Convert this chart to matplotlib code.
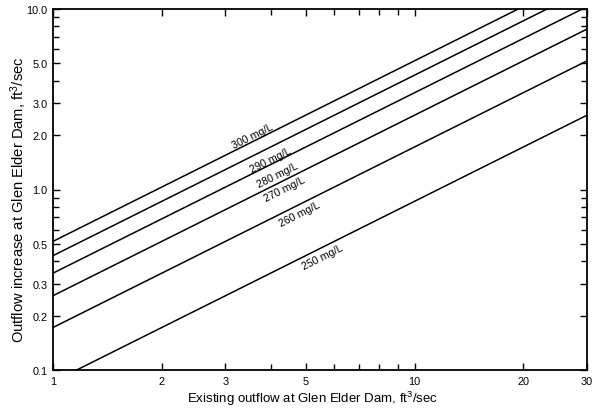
import numpy as np
import matplotlib
matplotlib.use("Agg")
import matplotlib.pyplot as plt
from matplotlib.ticker import FixedLocator, NullFormatter

plt.rcParams['font.family'] = ['Liberation Sans', 'DejaVu Sans']
plt.rcParams['mathtext.fontset'] = 'custom'
plt.rcParams['mathtext.rm'] = 'Liberation Sans'
plt.rcParams['mathtext.it'] = 'Liberation Sans'

# Data: straight lines on log-log axes, given by end points
x_ends = [1, 30]
series = {
    "300 mg/L": [0.516, 15.5],
    "290 mg/L": [0.430, 12.9],
    "280 mg/L": [0.344, 10.3],
    "270 mg/L": [0.258, 7.74],
    "260 mg/L": [0.172, 5.16],
    "250 mg/L": [0.086, 2.58],
}
# label centres (data coords)
label_x = [3.575, 4.01, 4.19, 4.38, 4.82, 5.58]
label_y = [1.98, 1.457, 1.203, 1.006, 0.732, 0.423]

x_major = [1, 2, 3, 5, 10, 20, 30]
x_major_labels = ["1", "2", "3", "5", "10", "20", "30"]
x_minor = [4, 6, 7, 8, 9]
y_major = [0.1, 0.2, 0.3, 0.5, 1.0, 2.0, 3.0, 5.0, 10.0]
y_major_labels = ["0.1", "0.2", "0.3", "0.5", "1.0", "2.0", "3.0", "5.0", "10.0"]
y_minor = [0.4, 0.6, 0.7, 0.8, 0.9, 4, 6, 7, 8, 9]

fig = plt.figure(figsize=(6.0, 4.1), dpi=100)
ax = fig.add_axes([53/600, 1-371/410, (587-53)/600, (371-10)/410])
ax.set_xscale('log')
ax.set_yscale('log')
ax.set_xlim(1, 30)
ax.set_ylim(0.1, 10)

for name, ys in series.items():
    ax.plot(x_ends, ys, color='black', lw=1.1, solid_capstyle='butt')

# rotation from axes geometry
fig.canvas.draw()
p0 = ax.transData.transform((1, 0.1))
p1 = ax.transData.transform((10, 1.0))
ang = np.degrees(np.arctan2(p1[1]-p0[1], p1[0]-p0[0]))
for (name, _), lx, ly in zip(series.items(), label_x, label_y):
    ax.text(lx, ly, name, rotation=ang, ha='center', va='center',
            fontsize=7.7, rotation_mode='anchor')

ax.xaxis.set_major_locator(FixedLocator(x_major))
ax.set_xticklabels(x_major_labels)
ax.xaxis.set_minor_locator(FixedLocator(x_minor))
ax.xaxis.set_minor_formatter(NullFormatter())
ax.yaxis.set_major_locator(FixedLocator(y_major))
ax.set_yticklabels(y_major_labels)
ax.yaxis.set_minor_locator(FixedLocator(y_minor))
ax.yaxis.set_minor_formatter(NullFormatter())

ax.tick_params(which='both', direction='in', top=True, right=True,
               labelsize=7.8, width=1.0, pad=4)
ax.tick_params(which='major', length=5)
ax.tick_params(which='minor', length=4)
for s in ax.spines.values():
    s.set_linewidth(1.3)

ax.set_xlabel("Existing outflow at Glen Elder Dam, ft$^3$/sec", fontsize=9.5)
ax.set_ylabel("Outflow increase at Glen Elder Dam, ft$^3$/sec", fontsize=10.6)
ax.xaxis.label.set_va('center')
ax.xaxis.set_label_coords((312-53)/534, -(399-371)/361)
ax.yaxis.label.set_va('center')
ax.yaxis.set_label_coords((19-53)/534, (371-200)/361)

fig.savefig("out.png", dpi=100)
